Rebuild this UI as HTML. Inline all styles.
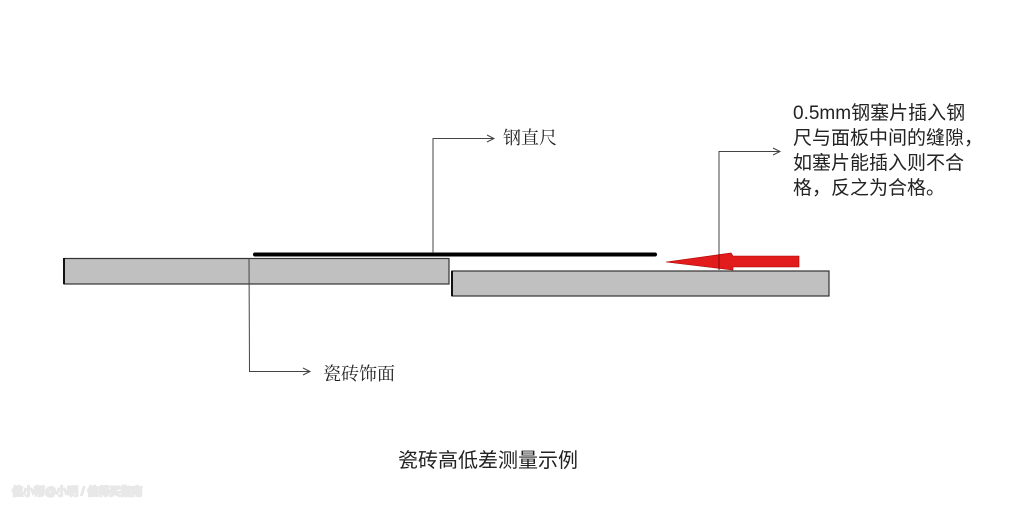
<!DOCTYPE html>
<html><head><meta charset="utf-8"><style>
html,body{margin:0;padding:0;background:#fff;width:1021px;height:511px;overflow:hidden}
svg{display:block}
</style></head><body>
<svg width="1021" height="511" viewBox="0 0 1021 511" xmlns="http://www.w3.org/2000/svg">
<rect x="64" y="258.5" width="385" height="25.5" fill="#c0c0c0" stroke="#333" stroke-width="1.2"/>
<line x1="64" y1="258" x2="64" y2="284" stroke="#111" stroke-width="2"/>
<rect x="452" y="271" width="377" height="25" fill="#c0c0c0" stroke="#333" stroke-width="1.2"/>
<line x1="452" y1="271" x2="452" y2="296" stroke="#111" stroke-width="2"/>
<line x1="255" y1="254.5" x2="655" y2="254.5" stroke="#000" stroke-width="4" stroke-linecap="round"/>
<g fill="none" stroke="#444" stroke-width="1">
<polyline points="433,253 433,138.5 494,138.5"/>
<polyline points="487,135 494,138.5 487,142"/>
<polyline points="249,258 249.5,371.5 310,371.5"/>
<polyline points="303,368 310,371.5 303,375"/>
<polyline points="719,270 719,151.5 780,151.5"/>
<polyline points="773,148 780,151.5 773,155"/>
</g>
<polygon points="666,262 731,253 733,256 799,256 799,267 733,267 733,270" fill="#e21c1c" stroke="#a00" stroke-width="0.6"/>
<line x1="719" y1="254" x2="719" y2="270" stroke="#700" stroke-width="0.8"/>
<g font-family="'Liberation Sans','Noto Sans CJK SC',sans-serif" fill="#222">
<text x="503" y="144" font-size="18" font-family="'Noto Serif CJK SC',serif">钢直尺</text>
<text x="323" y="380" font-size="18" font-family="'Noto Serif CJK SC',serif">瓷砖饰面</text>
<text font-size="19">
<tspan x="793" y="119">0.5mm钢塞片插入钢</tspan>
<tspan x="793" y="144">尺与面板中间的缝隙，</tspan>
<tspan x="793" y="169">如塞片能插入则不合</tspan>
<tspan x="793" y="194">格，反之为合格。</tspan>
</text>
<text x="488" y="467" font-size="20" text-anchor="middle">瓷砖高低差测量示例</text>
<text x="12" y="495" font-size="11" fill="#d8d8d8" stroke="#e8e8e8" stroke-width="2">值小帮@小明 / 值得买指南</text>
</g>
</svg>
</body></html>
